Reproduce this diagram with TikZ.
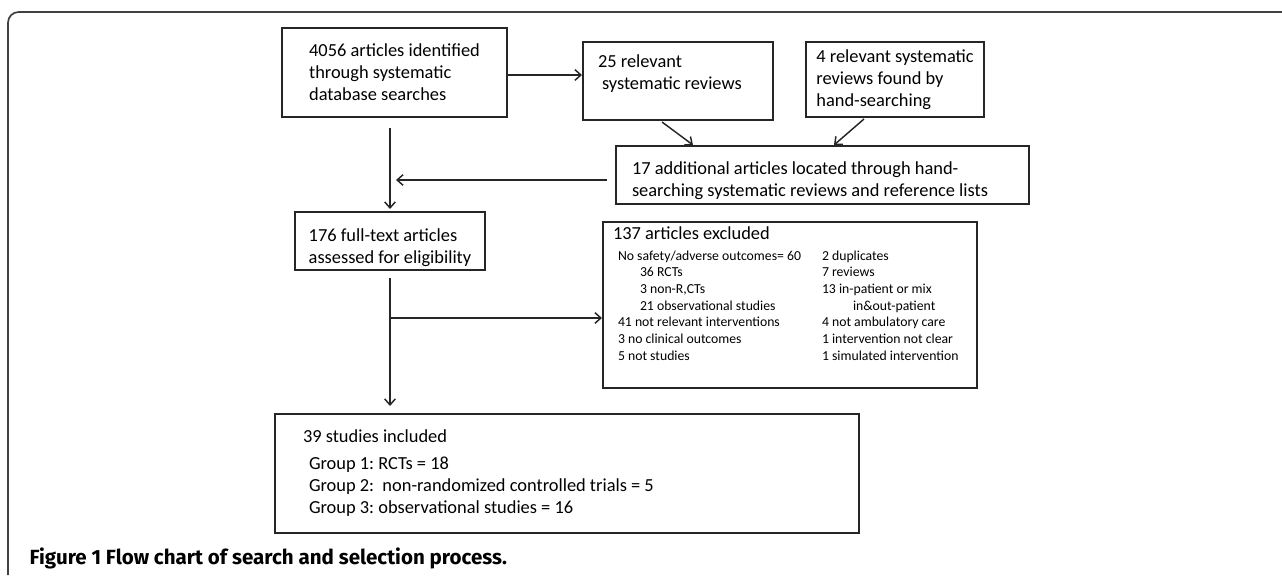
\documentclass[tikz,border=0pt]{standalone}
\usepackage{fontspec}
\setmainfont{Carlito}
\newfontfamily\capfont{Fira Sans}
\usepackage{array}
\usetikzlibrary{arrows.meta,calc}

\newcommand{\boxfont}{\fontsize{13.8}{16.5}\selectfont}
\newcommand{\smallboxfont}{\fontsize{10.3}{12.5}\selectfont}
\frenchspacing

\begin{document}
\begin{tikzpicture}[x=0.75pt,y=-0.75pt,
  box/.style={draw=black!85, line width=1.5pt, font=\boxfont, align=left, inner sep=0pt,
    execute at begin node={\spaceskip=0pt\xspaceskip=0pt}},
  arr/.style={draw=black!85, line width=1.1pt, -{Straight Barb[length=4.5pt,width=8pt]}},
  frame/.style={draw=black!75, line width=1.3pt, rounded corners=8pt}]

\useasboundingbox (0,0) rectangle (1282,575);

\draw[frame] (8,575) -- (8,12) -- (1282,12);

% search boxes
\node[box, minimum width=168.75pt, minimum height=66.75pt] (A) at (394.5,72.5) {4056 articles identified\\through systematic\\database searches};
\node[box, text width=120pt, inner xsep=11.25pt, minimum height=58.5pt] (B) at (678,81) {25 relevant\\\hspace*{3pt}systematic reviews\\[-8.15pt]\strut};
\node[box, minimum width=133.5pt, minimum height=56.25pt] (C) at (895,79.5) {4 relevant systematic\\reviews found by\\hand-searching};
\node[box, text width=285.75pt, inner xsep=12pt, minimum height=43.5pt] (D) at (822.5,175) {\strut\\[-10.35pt]17 additional articles located through hand-\\searching systematic reviews and reference lists};

% screening
\node[box, minimum width=142.5pt, minimum height=43.5pt] (E) at (390,241) {\strut\\[-8.35pt]176 full-text articles\\assessed for eligibility};
\node[box, minimum width=280.5pt, minimum height=124.5pt] (G) at (790,305) {\parbox[c][124.5pt][t]{265.5pt}{\vspace*{3.3pt}\smallboxfont
\begin{tabular}{@{}>{\hspace*{3.75pt}}p{156.75pt}@{}l@{}}
\multicolumn{2}{@{}l@{}}{\boxfont 137 articles excluded}\\[3.25pt]
No safety/adverse outcomes= 60 & 2 duplicates\\
\hspace*{16.5pt}36 RCTs & 7 reviews\\
\hspace*{16.5pt}3 non-R,CTs & 13 in-patient or mix\\
\hspace*{16.5pt}21 observational studies & \hspace*{23.25pt}in\&out-patient\\
41 not relevant interventions & 4 not ambulatory care\\
3 no clinical outcomes & 1 intervention not clear\\
5 not studies & 1 simulated intervention
\end{tabular}}};

% included
\node[box, text width=396pt, inner xsep=21pt, minimum height=89.25pt] (F) at (567,473.5) {39 studies included\\[3.75pt]\hspace*{4.5pt}Group 1: RCTs = 18\\\hspace*{4.5pt}Group 2:\ \ non-randomized controlled trials = 5\\\hspace*{4.5pt}Group 3: observational studies = 16};

\node[anchor=base west, font=\capfont\bfseries\fontsize{15.4}{18}\selectfont] (cap) at (25,564) {Figure 1 Flow chart of search and selection process.};

% arrows
\draw[arr] ($(A.east)+(0,2.5)$) -- ($(A.east -| B.west)+(0,2.5)$);
\draw[arr] ($(B.south)+(-16,1)$) -- ($(D.north)+(-129.5,0)$);
\draw[arr] ($(C.south)+(-31,1)$) -- ($(D.north)+(11.5,0)$);
\draw[arr] ($(A.south -| E.north)+(0,10)$) -- ($(E.north)+(0,-2)$);
\draw[arr] ($(D.west)+(-8,5)$) -- ($(D.west -| E.north)+(6,5)$);
\coordinate (split) at ($(E.south)+(0,47)$);
\draw[arr] ($(E.south)+(0,7)$) -- ($(F.north -| E.south)+(0,-7)$);
\draw[arr] (split) -- (split -| G.west);

\end{tikzpicture}
\end{document}
